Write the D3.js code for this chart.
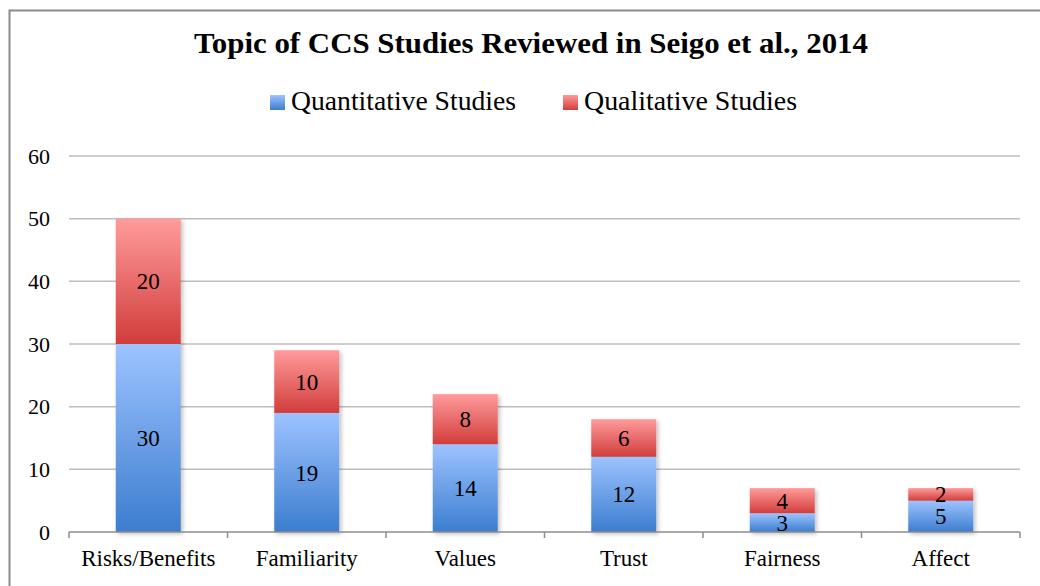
<!DOCTYPE html>
<html><head><meta charset="utf-8">
<script src="https://cdn.jsdelivr.net/npm/d3@7"></script>
<style>html,body{margin:0;padding:0;background:#fff;}svg{display:block;}</style>
</head><body>
<script>
const categories = ["Risks/Benefits","Familiarity","Values","Trust","Fairness","Affect"];
const quantitative = [30,19,14,12,3,5];
const qualitative = [20,10,8,6,4,2];
const seriesNames = ["Quantitative Studies","Qualitative Studies"];
const yTicks = [0,10,20,30,40,50,60];
const titleText = "Topic of CCS Studies Reviewed in Seigo et al., 2014";

(function(){
const W = 1040, H = 586;
const svg = d3.select("body").append("svg").attr("width", W).attr("height", H);
const defs = svg.append("defs");
function grad(id, c1, c2){
  const g = defs.append("linearGradient").attr("id", id).attr("x1",0).attr("y1",0).attr("x2",0).attr("y2",1);
  g.append("stop").attr("offset","0%").attr("stop-color",c1);
  g.append("stop").attr("offset","100%").attr("stop-color",c2);
}
grad("gBlue","#9dc3ff","#3c7dcf");
grad("gRed","#ff9b9b","#d13d3b");
const f = defs.append("filter").attr("id","sh").attr("x","-20%").attr("y","-20%").attr("width","150%").attr("height","150%");
f.append("feDropShadow").attr("dx",2).attr("dy",2).attr("stdDeviation",2).attr("flood-color","#000").attr("flood-opacity",0.25);

// outer border
svg.append("rect").attr("x",9.5).attr("y",10.5).attr("width",1100).attr("height",600)
  .attr("fill","none").attr("stroke","#8a8a8a").attr("stroke-width",2);

const serif = "'Liberation Serif', 'DejaVu Serif', serif";

// title
svg.append("text").attr("x",531).attr("y",53).attr("text-anchor","middle")
  .attr("font-family",serif).attr("font-weight","bold").attr("font-size",29)
  .attr("textLength",674).attr("lengthAdjust","spacingAndGlyphs")
  .attr("fill","#000").text(titleText);

const pL = 69, pR = 1020, pT = 156, pB = 532;
const x = d3.scaleBand().domain(categories).range([pL,pR]).paddingInner(0.59).paddingOuter(0.295);
const band = d3.scaleBand().domain(categories).range([pL,pR]);
const y = d3.scaleLinear().domain([0,60]).range([pB,pT]);

// gridlines
svg.append("g").selectAll("line").data(yTicks.filter(d=>d>0)).join("line")
  .attr("x1",pL).attr("x2",pR).attr("y1",d=>y(d)).attr("y2",d=>y(d))
  .attr("stroke","#bdbdbd").attr("stroke-width",1.5);

// y labels
svg.append("g").selectAll("text").data(yTicks).join("text")
  .attr("x",50).attr("y",d=>y(d)).attr("dy","0.35em").attr("text-anchor","end")
  .attr("font-family",serif).attr("font-size",22).attr("fill","#000").text(d=>d);

// bars
const data = categories.map((c,i)=>({c, q:quantitative[i], l:qualitative[i]}));
const bars = svg.append("g");
data.forEach(d=>{
  const g = bars.append("g").attr("filter","url(#sh)");
  g.append("rect").attr("x",x(d.c)).attr("width",x.bandwidth())
    .attr("y",y(d.q)).attr("height",y(0)-y(d.q)).attr("fill","url(#gBlue)");
  g.append("rect").attr("x",x(d.c)).attr("width",x.bandwidth())
    .attr("y",y(d.q+d.l)).attr("height",y(d.q)-y(d.q+d.l)).attr("fill","url(#gRed)");
});
// value labels
const lab = svg.append("g").attr("font-family",serif).attr("font-size",23).attr("text-anchor","middle").attr("fill","#000");
data.forEach(d=>{
  const cx = x(d.c)+x.bandwidth()/2;
  lab.append("text").attr("x",cx).attr("y",(y(0)+y(d.q))/2).attr("dy","0.35em").text(d.q);
  lab.append("text").attr("x",cx).attr("y",(y(d.q)+y(d.q+d.l))/2).attr("dy","0.35em").text(d.l);
});

// x axis
const ax = svg.append("g").attr("transform",`translate(0,${pB})`);
ax.append("line").attr("x1",pL).attr("x2",pR).attr("stroke","#8c8c8c").attr("stroke-width",1.5);
const bounds = categories.map(c=>band(c)).concat([pR]);
ax.selectAll("line.t").data(bounds).join("line").attr("class","t")
  .attr("x1",d=>d).attr("x2",d=>d).attr("y1",0).attr("y2",6).attr("stroke","#8c8c8c").attr("stroke-width",1.5);
ax.selectAll("text").data(categories).join("text")
  .attr("x",d=>band(d)+band.bandwidth()/2).attr("y",34)
  .attr("text-anchor","middle").attr("font-family",serif).attr("font-size",23).attr("fill","#000").text(d=>d);

// legend
const leg = svg.append("g").attr("font-family",serif).attr("font-size",27).attr("fill","#000");
const legItems = [{name:seriesNames[0],fill:"url(#gBlue)",x:270,w:225},{name:seriesNames[1],fill:"url(#gRed)",x:563,w:213}];
legItems.forEach(it=>{
  leg.append("rect").attr("x",it.x).attr("y",95).attr("width",15).attr("height",15).attr("fill",it.fill);
  leg.append("text").attr("x",it.x+21).attr("y",110)
    .attr("textLength",it.w).attr("lengthAdjust","spacingAndGlyphs").text(it.name);
});
})();
</script>
</body></html>
